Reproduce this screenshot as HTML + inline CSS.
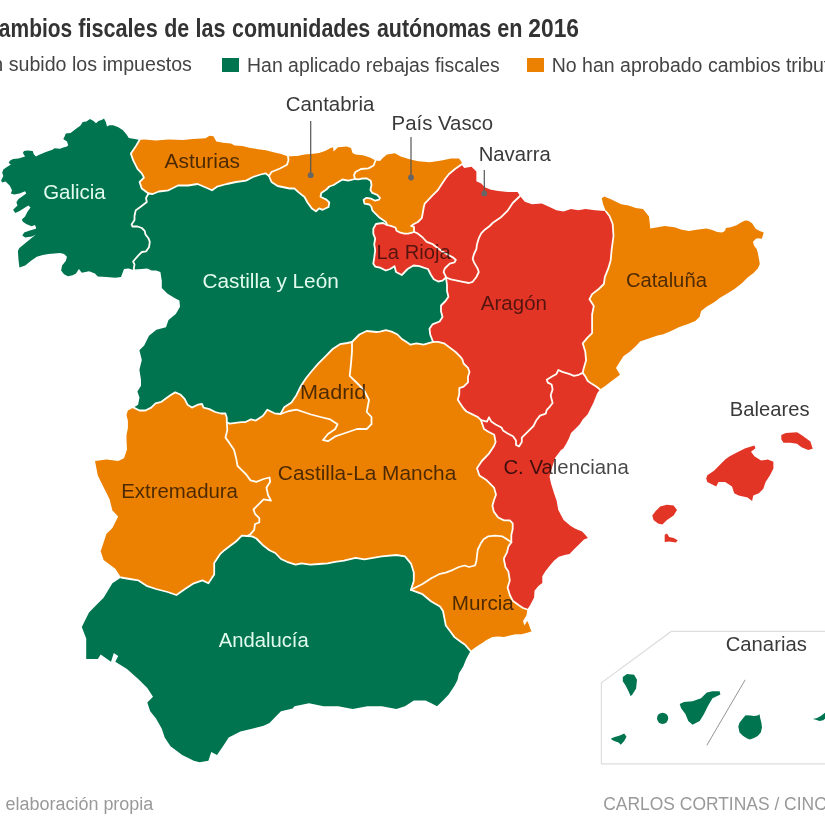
<!DOCTYPE html>
<html><head><meta charset="utf-8"><style>
html,body{margin:0;padding:0;background:#fff;}
body{width:825px;height:825px;overflow:hidden;position:relative;font-family:"Liberation Sans",sans-serif;}
svg{position:absolute;left:0;top:0;}
.g{fill:#00744f} .o{fill:#ec8000} .r{fill:#e23526}
.brd polyline{fill:none;stroke:#fffdf5;stroke-width:1.8;stroke-linejoin:round;stroke-linecap:round}
.t{position:absolute;white-space:nowrap;line-height:1;}
</style></head><body>
<svg width="825" height="825" viewBox="0 0 825 825">
<g><polygon class="g" points="139.5,140.0 134.8,139.1 128.8,137.9 126.4,134.2 122.7,130.0 117.9,127.0 113.0,125.2 109.4,125.2 107.0,126.4 105.8,122.1 104.0,118.5 102.1,119.7 98.5,120.9 96.0,123.3 93.6,120.9 90.0,119.0 86.4,121.5 82.7,122.1 80.3,125.8 76.7,128.2 70.6,133.0 65.8,133.6 64.5,136.7 63.3,139.1 67.0,141.5 68.2,145.2 67.0,146.4 63.3,147.6 60.0,148.7 54.5,148.2 52.4,149.8 45.8,152.0 38.2,155.3 36.0,156.4 33.8,154.2 32.7,150.9 27.3,150.4 24.0,150.9 22.9,153.1 25.1,156.4 18.5,158.5 13.1,159.1 9.8,160.7 8.7,162.9 10.9,164.5 6.5,167.3 3.3,169.5 2.2,172.7 3.3,176.0 1.1,180.4 2.2,182.5 5.5,181.5 7.6,183.6 9.8,185.8 12.0,190.2 10.9,193.5 14.2,194.5 19.6,193.5 25.1,191.3 26.2,193.5 21.8,196.7 18.5,198.9 16.4,202.2 17.5,205.5 13.1,209.8 15.3,213.1 19.6,210.9 25.1,207.6 28.4,205.5 30.5,207.6 27.3,212.0 25.1,216.4 21.8,219.6 22.9,221.8 26.2,224.0 31.6,226.2 34.9,225.1 36.0,227.3 35.9,228.7 29.1,230.7 24.2,232.6 22.3,235.5 25.2,237.5 32.0,236.5 35.9,234.5 31.0,238.4 25.2,243.3 19.4,248.1 17.9,251.0 18.4,258.8 19.4,267.5 25.2,265.6 31.0,260.7 36.8,256.8 42.7,254.9 48.5,253.9 54.3,253.5 60.1,253.0 64.0,253.9 66.9,256.8 65.9,260.7 62.1,265.6 61.1,270.4 64.0,274.3 67.9,276.2 72.7,275.3 76.0,273.5 78.9,269.0 81.8,272.7 89.1,271.3 94.9,273.5 97.8,276.4 106.5,277.0 115.3,277.8 121.0,277.0 124.0,269.0 128.4,268.4 132.7,269.8 134.0,269.5 133.8,268.7 134.5,264.4 133.1,261.5 138.2,255.6 141.8,252.0 146.2,251.3 149.1,246.9 149.8,241.8 148.4,238.2 145.5,234.5 144.7,230.9 141.8,228.0 137.5,226.5 132.4,226.5 131.6,224.4 134.5,220.0 134.5,216.0 135.7,210.4 141.0,206.5 146.8,202.0 146.0,198.0 148.5,193.5 141.8,188.6 139.6,182.0 144.0,177.6 141.8,173.3 137.5,168.9 133.1,160.2 130.9,153.6 135.3,147.1"/><polygon class="o" points="139.5,140.0 144.0,139.4 156.0,140.6 168.5,139.4 183.0,140.0 192.7,139.0 205.6,138.2 209.5,135.7 213.4,136.2 216.3,141.5 223.1,142.8 230.9,143.4 234.7,145.4 242.5,146.0 250.2,147.9 258.0,149.2 265.8,150.2 273.5,152.2 281.3,154.1 288.0,156.5 288.5,160.0 287.0,164.8 280.0,168.5 271.5,172.0 269.0,176.0 265.5,173.3 260.6,174.5 253.0,177.0 246.0,180.6 236.0,182.0 226.7,184.0 217.0,186.7 212.0,190.3 207.0,188.0 197.6,184.0 188.0,185.5 178.0,185.5 168.5,190.3 158.8,191.5 152.7,194.0 148.5,193.5 141.8,188.6 139.6,182.0 144.0,177.6 141.8,173.3 137.5,168.9 133.1,160.2 130.9,153.6 135.3,147.1"/><polygon class="o" points="288.0,156.5 294.5,156.0 297.3,156.0 304.5,154.5 313.3,153.8 319.0,153.0 325.0,151.0 330.7,148.0 333.0,147.3 333.6,151.6 338.0,147.3 346.7,146.5 351.0,148.0 352.5,153.0 355.5,154.5 362.7,155.3 370.0,157.5 375.5,160.5 373.6,165.5 368.5,168.4 361.0,169.0 355.5,172.0 354.0,175.0 355.0,179.0 348.2,180.7 342.4,179.5 338.0,182.2 333.6,185.0 329.3,186.5 326.4,189.5 321.3,193.0 320.5,196.7 323.5,198.2 326.4,199.6 329.3,202.5 328.5,207.0 322.7,209.8 319.0,208.4 316.0,211.3 311.8,208.4 307.5,202.5 304.5,197.0 298.7,192.4 294.4,188.5 289.7,188.5 277.6,186.0 271.5,182.0 269.0,176.0 271.5,172.0 280.0,168.5 287.0,164.8 288.5,160.0"/><polygon class="o" points="375.5,160.5 380.0,161.0 383.3,157.5 387.0,154.5 395.0,153.2 400.7,156.5 410.4,159.4 418.2,161.3 429.8,162.3 441.5,160.4 451.0,158.4 459.0,158.4 461.8,162.3 461.5,164.5 455.0,169.0 449.0,174.0 445.3,178.8 441.5,184.6 437.6,190.4 431.8,196.2 427.6,200.7 424.7,203.6 423.7,207.5 422.7,213.3 421.8,218.1 417.9,222.0 414.0,224.0 411.1,225.9 414.0,226.8 414.0,231.7 412.0,232.7 408.2,233.6 404.3,233.6 400.4,232.7 396.5,230.7 395.6,227.8 393.6,226.8 390.7,225.9 387.0,225.0 386.8,224.0 385.9,222.0 383.0,220.0 379.0,217.2 375.2,213.3 372.3,210.4 371.3,206.5 369.4,204.5 364.5,203.6 363.6,199.7 366.5,197.8 371.3,198.7 375.2,200.7 379.0,199.7 380.0,197.8 377.2,194.8 372.3,192.9 370.4,190.0 371.5,185.0 370.7,180.7 367.0,178.5 362.7,178.5 358.4,179.3 355.0,179.0 354.0,175.0 355.5,172.0 361.0,169.0 368.5,168.4 373.6,165.5"/><polygon class="r" points="461.5,164.5 464.2,167.9 471.5,166.7 476.4,171.5 476.4,181.2 481.2,183.6 484.8,187.3 491.0,189.7 498.2,191.0 507.9,192.0 517.6,192.0 520.0,196.0 512.7,203.0 507.9,210.3 500.6,217.6 493.3,222.4 489.7,226.0 484.8,229.7 481.2,233.3 478.8,238.2 477.0,244.2 476.4,249.0 474.0,254.0 472.7,258.8 474.0,262.4 477.6,268.5 478.8,272.0 476.4,277.0 472.7,281.8 469.0,283.0 463.0,281.8 457.0,280.6 451.0,279.4 446.0,277.5 445.5,275.8 443.6,272.0 444.8,268.5 449.7,263.6 454.5,262.4 455.8,260.0 453.3,257.6 448.5,255.0 442.4,251.5 437.6,248.0 432.7,244.2 426.7,241.8 422.7,237.5 417.9,233.6 414.0,231.7 414.0,226.8 411.1,225.9 414.0,224.0 417.9,222.0 421.8,218.1 422.7,213.3 423.7,207.5 424.7,203.6 427.6,200.7 431.8,196.2 437.6,190.4 441.5,184.6 445.3,178.8 449.0,174.0 455.0,169.0"/><polygon class="r" points="387.0,225.0 390.7,225.9 393.6,226.8 395.6,227.8 396.5,230.7 400.4,232.7 404.3,233.6 408.2,233.6 412.0,232.7 414.0,231.7 417.9,233.6 422.7,237.5 426.7,241.8 432.7,244.2 437.6,248.0 442.4,251.5 448.5,255.0 453.3,257.6 455.8,260.0 454.5,262.4 449.7,263.6 444.8,268.5 443.6,272.0 445.5,275.8 446.0,277.5 442.5,280.7 438.2,281.5 433.8,279.3 431.0,275.0 428.0,269.0 423.6,267.6 419.3,266.2 413.5,265.5 407.6,269.0 401.8,275.0 396.0,272.0 394.5,266.2 390.2,269.0 385.8,270.5 380.0,267.6 375.2,266.6 373.3,263.7 374.2,257.9 375.2,250.1 374.2,244.3 375.2,238.5 373.3,233.6 373.3,228.8 376.0,224.0 379.0,223.5 383.0,223.0"/><polygon class="r" points="520.0,196.0 524.8,201.8 532.0,204.2 541.8,203.5 549.0,206.7 556.4,210.3 563.6,211.5 571.0,209.0 578.2,210.3 585.5,209.0 595.0,210.3 604.8,211.0 606.0,211.5 609.5,216.0 612.7,224.0 613.5,236.0 611.6,250.0 610.7,260.2 608.2,268.7 604.8,277.2 603.9,284.0 598.8,289.0 592.1,294.1 589.5,299.2 593.8,306.0 592.1,314.5 592.1,324.7 592.1,333.1 587.0,338.2 582.7,343.3 585.3,351.8 586.1,360.3 583.6,368.8 582.7,372.9 578.8,374.8 573.9,375.8 569.1,373.9 562.3,371.9 558.4,370.0 556.5,373.9 551.6,376.8 546.8,379.7 547.8,382.6 551.6,384.5 552.6,389.4 550.7,395.2 551.6,399.1 552.6,403.0 549.7,406.8 546.8,409.8 545.8,413.6 540.0,415.6 536.4,420.2 533.5,426.0 527.6,431.8 521.8,437.6 521.8,442.0 519.0,446.4 516.0,445.0 516.0,440.5 513.0,436.2 507.3,433.3 503.0,430.4 501.5,427.5 495.6,424.5 491.3,421.6 489.0,417.3 487.0,421.6 481.0,420.2 478.2,417.3 472.4,414.4 466.5,411.5 463.6,408.5 460.7,404.2 457.8,399.8 459.3,394.0 459.3,388.2 463.6,386.7 468.0,382.4 468.0,376.5 469.5,372.2 468.0,367.8 463.6,363.5 462.2,359.0 460.0,356.4 455.6,352.0 449.8,347.6 444.0,343.3 438.2,341.8 433.0,341.8 430.2,334.5 429.5,328.7 432.4,324.4 439.6,321.5 442.5,317.0 441.0,311.3 441.0,305.5 445.5,301.0 448.4,296.7 447.0,291.0 447.0,285.0 446.0,277.5 451.0,279.4 457.0,280.6 463.0,281.8 469.0,283.0 472.7,281.8 476.4,277.0 478.8,272.0 477.6,268.5 474.0,262.4 472.7,258.8 474.0,254.0 476.4,249.0 477.0,244.2 478.8,238.2 481.2,233.3 484.8,229.7 489.7,226.0 493.3,222.4 500.6,217.6 507.9,210.3 512.7,203.0"/><polygon class="o" points="606.0,211.5 603.0,204.0 601.8,198.2 604.2,196.5 611.5,199.4 621.2,204.2 628.5,205.5 635.8,208.0 643.0,209.0 649.0,216.4 650.3,228.5 657.6,227.3 664.8,226.0 674.5,227.3 681.8,229.7 689.0,231.0 696.4,229.7 706.5,228.6 712.3,230.1 717.2,232.0 722.0,232.5 724.9,231.0 725.9,228.1 730.7,227.2 736.5,225.2 741.4,222.3 745.3,220.4 748.2,220.8 752.1,223.3 754.0,226.2 755.9,229.1 759.8,231.0 763.7,232.5 762.7,235.9 761.8,238.8 757.9,238.3 755.9,238.8 753.0,241.7 754.0,245.6 756.9,249.5 757.9,253.3 758.8,258.2 759.8,264.0 757.8,268.5 753.5,273.1 747.6,277.5 741.8,283.3 734.5,289.1 727.3,293.5 720.0,297.8 714.2,302.2 706.9,306.5 701.1,310.9 699.6,316.7 695.3,321.1 688.0,324.0 679.3,326.9 670.5,331.3 663.3,334.2 657.5,335.6 648.7,338.5 640.0,341.5 636.0,346.0 629.7,351.8 623.6,356.0 620.0,361.5 616.0,368.0 620.0,374.8 615.0,378.5 610.3,382.0 605.5,385.8 600.0,389.5 596.2,386.5 591.4,383.6 587.5,380.7 585.6,376.8 582.7,372.9 583.6,368.8 586.1,360.3 585.3,351.8 582.7,343.3 587.0,338.2 592.1,333.1 592.1,324.7 592.1,314.5 593.8,306.0 589.5,299.2 592.1,294.1 598.8,289.0 603.9,284.0 604.8,277.2 608.2,268.7 610.7,260.2 611.6,250.0 613.5,236.0 612.7,224.0 609.5,216.0"/><polygon class="r" points="582.7,372.9 585.6,376.8 587.5,380.7 591.4,383.6 596.2,386.5 600.0,389.5 597.2,393.3 595.3,398.1 593.3,403.0 590.4,408.8 587.5,414.6 582.7,419.5 579.8,424.3 575.9,428.2 571.0,433.0 569.1,437.9 566.2,443.7 563.3,448.5 561.0,450.0 555.3,457.5 552.4,466.2 549.5,476.4 551.0,483.6 553.8,492.4 556.7,501.0 558.2,509.8 563.6,520.0 570.4,525.8 575.3,528.7 582.1,531.6 585.0,534.5 587.9,537.9 584.0,539.4 578.2,545.2 574.3,549.1 569.5,553.9 564.6,554.9 558.8,556.8 553.9,560.7 549.1,566.5 545.2,571.4 542.3,576.2 542.3,583.0 538.4,585.9 534.5,590.8 534.1,597.6 530.2,605.0 527.3,609.5 523.0,608.0 518.5,605.0 512.7,600.7 509.8,595.0 507.6,587.6 509.8,580.4 508.4,571.6 505.5,567.3 504.0,560.0 504.0,558.2 507.0,552.4 508.4,546.5 511.3,542.2 511.3,535.0 512.7,529.0 512.7,523.3 509.8,520.4 504.0,520.4 498.2,517.5 493.8,511.6 492.4,505.8 494.0,500.0 496.0,494.8 494.0,487.6 486.7,480.3 479.4,475.5 477.0,468.2 481.8,461.0 489.0,453.6 494.0,446.0 495.6,442.0 494.2,434.7 488.4,431.8 484.0,429.0 481.0,420.2 487.0,421.6 489.0,417.3 491.3,421.6 495.6,424.5 501.5,427.5 503.0,430.4 507.3,433.3 513.0,436.2 516.0,440.5 516.0,445.0 519.0,446.4 521.8,442.0 521.8,437.6 527.6,431.8 533.5,426.0 536.4,420.2 540.0,415.6 545.8,413.6 546.8,409.8 549.7,406.8 552.6,403.0 551.6,399.1 550.7,395.2 552.6,389.4 551.6,384.5 547.8,382.6 546.8,379.7 551.6,376.8 556.5,373.9 558.4,370.0 562.3,371.9 569.1,373.9 573.9,375.8 578.8,374.8"/><polygon class="o" points="511.3,542.2 508.4,546.5 507.0,552.4 504.0,558.2 504.0,560.0 505.5,567.3 508.4,571.6 509.8,580.4 507.6,587.6 509.8,595.0 512.7,600.7 518.5,605.0 523.0,608.0 527.3,609.5 526.5,615.3 523.0,621.0 524.4,625.5 527.3,621.0 528.7,624.0 530.2,628.4 531.6,631.3 527.3,632.7 521.5,634.2 515.6,634.2 509.8,635.6 504.0,637.1 498.2,636.4 492.4,637.1 486.5,640.0 482.2,642.9 477.8,645.8 473.5,648.7 470.5,651.0 464.7,644.4 460.4,641.5 454.5,637.1 450.2,631.3 445.8,625.5 444.4,618.2 443.0,611.0 440.0,606.5 431.3,601.5 422.5,594.2 411.0,589.8 422.5,584.0 431.3,578.2 440.0,573.8 445.8,572.7 453.0,569.8 459.0,567.0 464.7,565.5 469.0,567.0 475.0,565.5 476.4,561.0 477.0,555.3 477.8,549.5 480.7,543.6 483.6,539.3 488.0,536.4 495.3,535.6 502.5,536.4 507.0,539.3"/><polygon class="g" points="247.0,536.0 252.0,536.4 256.4,538.5 259.3,541.5 263.6,545.8 269.5,550.2 275.3,553.0 281.0,559.0 287.0,561.8 295.6,564.7 301.5,563.3 310.2,564.7 319.0,564.0 327.6,563.3 335.0,561.8 344.0,560.7 355.6,557.8 364.4,559.3 373.0,557.8 381.8,556.4 396.4,555.0 405.0,556.4 411.0,563.6 413.8,572.4 413.8,581.0 411.0,589.8 422.5,594.2 431.3,601.5 440.0,606.5 443.0,611.0 444.4,618.2 445.8,625.5 450.2,631.3 454.5,637.1 460.4,641.5 464.7,644.4 470.5,651.0 466.2,659.0 463.3,666.2 458.9,673.5 457.5,680.0 454.5,685.8 448.7,694.5 443.0,700.4 437.0,706.2 431.3,703.3 425.5,700.4 413.8,700.4 405.0,706.2 396.4,709.0 381.8,706.2 367.3,706.2 352.7,709.0 338.2,706.2 323.6,706.2 309.0,703.3 294.5,706.2 292.7,708.4 281.0,711.3 275.3,717.0 269.5,723.0 263.6,725.8 252.0,728.7 240.4,731.6 228.7,737.5 223.0,746.2 217.0,755.0 211.3,752.0 208.4,760.7 199.6,762.2 193.8,760.7 182.2,755.0 170.5,746.2 164.7,737.5 161.8,728.7 156.0,718.5 150.2,711.3 147.3,702.5 153.0,696.7 147.3,688.0 138.5,679.3 127.0,669.0 115.3,661.8 118.2,656.0 113.8,653.0 111.0,661.8 100.7,654.5 97.8,659.0 86.2,659.0 86.2,638.5 81.8,627.0 89.0,612.4 97.8,603.6 103.6,597.8 112.4,583.3 121.0,577.5 129.8,579.0 138.5,580.4 147.3,586.2 156.0,589.0 167.6,592.0 176.4,595.0 185.0,589.0 193.8,583.3 202.5,580.4 208.4,583.3 214.2,574.5 214.2,563.0 220.0,554.2 224.4,550.2 230.2,545.8 236.0,541.5 241.8,535.6"/><polygon class="o" points="133.7,407.6 139.5,410.5 145.4,410.5 151.2,407.6 155.5,403.3 161.4,401.8 167.2,397.5 171.5,394.5 175.2,392.4 180.3,394.5 184.6,398.9 187.5,404.7 191.9,407.6 197.7,404.7 202.1,404.0 203.5,407.6 209.4,409.1 215.2,412.0 221.0,413.5 225.4,413.5 226.8,417.8 226.8,422.2 227.3,430.0 225.5,437.6 229.0,442.4 234.0,449.7 236.4,459.4 237.5,465.8 241.8,470.2 246.2,474.5 250.5,480.4 256.4,481.8 263.6,479.0 269.5,477.5 270.2,481.8 266.5,487.6 268.0,495.0 271.0,500.7 263.6,499.3 259.3,503.6 253.5,509.5 255.0,513.8 259.3,518.2 259.3,522.5 255.0,524.0 254.2,529.8 250.5,534.2 247.0,536.0 241.8,535.6 236.0,541.5 230.2,545.8 224.4,550.2 220.0,554.2 214.2,563.0 214.2,574.5 208.4,583.3 202.5,580.4 193.8,583.3 185.0,589.0 176.4,595.0 167.6,592.0 156.0,589.0 147.3,586.2 138.5,580.4 129.8,579.0 121.0,577.5 115.3,568.7 103.6,560.0 100.7,551.3 103.6,542.5 106.5,533.8 112.4,528.0 118.2,516.4 112.4,510.5 109.5,499.0 103.6,487.3 97.8,475.6 95.0,461.0 106.5,459.6 118.2,461.0 124.0,458.2 127.0,449.5 126.5,440.0 126.5,435.3 127.9,428.0 127.9,420.7 126.5,414.9 127.9,410.5"/><polygon class="o" points="433.0,341.8 438.2,341.8 444.0,343.3 449.8,347.6 455.6,352.0 460.0,356.4 462.2,359.0 463.6,363.5 468.0,367.8 469.5,372.2 468.0,376.5 468.0,382.4 463.6,386.7 459.3,388.2 459.3,394.0 457.8,399.8 460.7,404.2 463.6,408.5 466.5,411.5 472.4,414.4 478.2,417.3 481.0,420.2 484.0,429.0 488.4,431.8 494.2,434.7 495.6,442.0 494.0,446.0 489.0,453.6 481.8,461.0 477.0,468.2 479.4,475.5 486.7,480.3 494.0,487.6 496.0,494.8 494.0,500.0 492.4,505.8 493.8,511.6 498.2,517.5 504.0,520.4 509.8,520.4 512.7,523.3 512.7,529.0 511.3,535.0 511.3,542.2 507.0,539.3 502.5,536.4 495.3,535.6 488.0,536.4 483.6,539.3 480.7,543.6 477.8,549.5 477.0,555.3 476.4,561.0 475.0,565.5 469.0,567.0 464.7,565.5 459.0,567.0 453.0,569.8 445.8,572.7 440.0,573.8 431.3,578.2 422.5,584.0 411.0,589.8 413.8,581.0 413.8,572.4 411.0,563.6 405.0,556.4 396.4,555.0 381.8,556.4 373.0,557.8 364.4,559.3 355.6,557.8 344.0,560.7 335.0,561.8 327.6,563.3 319.0,564.0 310.2,564.7 301.5,563.3 295.6,564.7 287.0,561.8 281.0,559.0 275.3,553.0 269.5,550.2 263.6,545.8 259.3,541.5 256.4,538.5 252.0,536.4 247.0,536.0 250.5,534.2 254.2,529.8 255.0,524.0 259.3,522.5 259.3,518.2 255.0,513.8 253.5,509.5 259.3,503.6 263.6,499.3 271.0,500.7 268.0,495.0 266.5,487.6 270.2,481.8 269.5,477.5 263.6,479.0 256.4,481.8 250.5,480.4 246.2,474.5 241.8,470.2 237.5,465.8 236.4,459.4 234.0,449.7 229.0,442.4 225.5,437.6 227.3,430.0 226.8,422.2 229.7,423.6 235.5,422.9 241.4,422.2 245.0,422.2 251.0,419.4 255.8,420.6 263.0,415.8 267.3,409.7 274.5,413.3 280.5,414.0 289.0,411.0 296.4,409.7 303.6,412.0 311.0,414.5 320.6,417.0 330.3,419.4 337.6,424.2 335.2,429.0 328.0,434.0 323.0,440.0 328.0,441.2 335.2,436.4 342.4,434.0 349.7,431.5 357.0,429.0 366.7,429.0 371.5,424.2 371.5,417.0 366.7,412.0 369.0,400.0 364.2,390.3 357.0,383.0 349.7,375.8 351.0,363.6 352.0,351.5 352.0,342.0 359.4,334.5 366.7,331.0 376.4,332.0 380.0,331.6 385.8,330.2 391.6,331.6 397.5,334.5 401.8,339.0 406.2,341.8 410.5,344.7 416.4,343.3 423.6,344.7"/><polygon class="o" points="280.5,414.0 284.2,407.3 291.5,402.4 296.4,395.2 301.2,385.5 306.0,378.2 311.0,372.0 318.2,363.6 325.5,356.4 332.7,349.0 340.0,344.2 347.3,343.0 352.0,342.0 352.0,351.5 351.0,363.6 349.7,375.8 357.0,383.0 364.2,390.3 369.0,400.0 366.7,412.0 371.5,417.0 371.5,424.2 366.7,429.0 357.0,429.0 349.7,431.5 342.4,434.0 335.2,436.4 328.0,441.2 323.0,440.0 328.0,434.0 335.2,429.0 337.6,424.2 330.3,419.4 320.6,417.0 311.0,414.5 303.6,412.0 296.4,409.7 289.0,411.0"/><polygon class="g" points="148.5,193.5 152.7,194.0 158.8,191.5 168.5,190.3 178.0,185.5 188.0,185.5 197.6,184.0 207.0,188.0 212.0,190.3 217.0,186.7 226.7,184.0 236.0,182.0 246.0,180.6 253.0,177.0 260.6,174.5 265.5,173.3 269.0,176.0 271.5,182.0 277.6,186.0 289.7,188.5 294.4,188.5 298.7,192.4 304.5,197.0 307.5,202.5 311.8,208.4 316.0,211.3 319.0,208.4 322.7,209.8 328.5,207.0 329.3,202.5 326.4,199.6 323.5,198.2 320.5,196.7 321.3,193.0 326.4,189.5 329.3,186.5 333.6,185.0 338.0,182.2 342.4,179.5 348.2,180.7 355.0,179.0 358.4,179.3 362.7,178.5 367.0,178.5 370.7,180.7 371.5,185.0 370.4,190.0 372.3,192.9 377.2,194.8 380.0,197.8 379.0,199.7 375.2,200.7 371.3,198.7 366.5,197.8 363.6,199.7 364.5,203.6 369.4,204.5 371.3,206.5 372.3,210.4 375.2,213.3 379.0,217.2 383.0,220.0 385.9,222.0 386.8,224.0 387.0,225.0 383.0,223.0 379.0,223.5 376.0,224.0 373.3,228.8 373.3,233.6 375.2,238.5 374.2,244.3 375.2,250.1 374.2,257.9 373.3,263.7 375.2,266.6 380.0,267.6 385.8,270.5 390.2,269.0 394.5,266.2 396.0,272.0 401.8,275.0 407.6,269.0 413.5,265.5 419.3,266.2 423.6,267.6 428.0,269.0 431.0,275.0 433.8,279.3 438.2,281.5 442.5,280.7 446.0,277.5 447.0,285.0 447.0,291.0 448.4,296.7 445.5,301.0 441.0,305.5 441.0,311.3 442.5,317.0 439.6,321.5 432.4,324.4 429.5,328.7 430.2,334.5 433.0,341.8 423.6,344.7 416.4,343.3 410.5,344.7 406.2,341.8 401.8,339.0 397.5,334.5 391.6,331.6 385.8,330.2 380.0,331.6 376.4,332.0 366.7,331.0 359.4,334.5 352.0,342.0 347.3,343.0 340.0,344.2 332.7,349.0 325.5,356.4 318.2,363.6 311.0,372.0 306.0,378.2 301.2,385.5 296.4,395.2 291.5,402.4 284.2,407.3 280.5,414.0 274.5,413.3 267.3,409.7 263.0,415.8 255.8,420.6 251.0,419.4 245.0,422.2 241.4,422.2 235.5,422.9 229.7,423.6 226.8,422.2 226.8,417.8 225.4,413.5 221.0,413.5 215.2,412.0 209.4,409.1 203.5,407.6 202.1,404.0 197.7,404.7 191.9,407.6 187.5,404.7 184.6,398.9 180.3,394.5 175.2,392.4 171.5,394.5 167.2,397.5 161.4,401.8 155.5,403.3 151.2,407.6 145.4,410.5 139.5,410.5 133.7,407.6 138.1,404.7 139.5,397.5 137.4,391.6 141.0,385.8 141.0,380.0 139.4,369.7 141.8,360.0 139.4,350.3 144.2,345.5 149.0,335.8 156.4,329.7 166.0,327.3 168.5,320.0 175.8,314.0 180.0,306.7 179.4,300.6 175.0,298.2 167.6,293.8 161.8,288.0 161.8,280.7 160.4,272.0 156.0,270.5 151.6,270.5 147.3,268.4 141.5,269.0 134.0,269.5 133.8,268.7 134.5,264.4 133.1,261.5 138.2,255.6 141.8,252.0 146.2,251.3 149.1,246.9 149.8,241.8 148.4,238.2 145.5,234.5 144.7,230.9 141.8,228.0 137.5,226.5 132.4,226.5 131.6,224.4 134.5,220.0 134.5,216.0 135.7,210.4 141.0,206.5 146.8,202.0 146.0,198.0"/></g>
<g class="brd"><polyline points="134.0,269.5 133.8,268.7 134.5,264.4 133.1,261.5 138.2,255.6 141.8,252.0 146.2,251.3 149.1,246.9 149.8,241.8 148.4,238.2 145.5,234.5 144.7,230.9 141.8,228.0 137.5,226.5 132.4,226.5 131.6,224.4 134.5,220.0 134.5,216.0 135.7,210.4 141.0,206.5 146.8,202.0 146.0,198.0 148.5,193.5"/><polyline points="148.5,193.5 141.8,188.6 139.6,182.0 144.0,177.6 141.8,173.3 137.5,168.9 133.1,160.2 130.9,153.6 135.3,147.1 139.5,140.0"/><polyline points="288.0,156.5 288.5,160.0 287.0,164.8 280.0,168.5 271.5,172.0 269.0,176.0"/><polyline points="269.0,176.0 265.5,173.3 260.6,174.5 253.0,177.0 246.0,180.6 236.0,182.0 226.7,184.0 217.0,186.7 212.0,190.3 207.0,188.0 197.6,184.0 188.0,185.5 178.0,185.5 168.5,190.3 158.8,191.5 152.7,194.0 148.5,193.5"/><polyline points="375.5,160.5 373.6,165.5 368.5,168.4 361.0,169.0 355.5,172.0 354.0,175.0 355.0,179.0"/><polyline points="355.0,179.0 348.2,180.7 342.4,179.5 338.0,182.2 333.6,185.0 329.3,186.5 326.4,189.5 321.3,193.0 320.5,196.7 323.5,198.2 326.4,199.6 329.3,202.5 328.5,207.0 322.7,209.8 319.0,208.4 316.0,211.3 311.8,208.4 307.5,202.5 304.5,197.0 298.7,192.4 294.4,188.5 289.7,188.5 277.6,186.0 271.5,182.0 269.0,176.0"/><polyline points="461.5,164.5 455.0,169.0 449.0,174.0 445.3,178.8 441.5,184.6 437.6,190.4 431.8,196.2 427.6,200.7 424.7,203.6 423.7,207.5 422.7,213.3 421.8,218.1 417.9,222.0 414.0,224.0 411.1,225.9 414.0,226.8 414.0,231.7"/><polyline points="414.0,231.7 412.0,232.7 408.2,233.6 404.3,233.6 400.4,232.7 396.5,230.7 395.6,227.8 393.6,226.8 390.7,225.9 387.0,225.0"/><polyline points="387.0,225.0 386.8,224.0 385.9,222.0 383.0,220.0 379.0,217.2 375.2,213.3 372.3,210.4 371.3,206.5 369.4,204.5 364.5,203.6 363.6,199.7 366.5,197.8 371.3,198.7 375.2,200.7 379.0,199.7 380.0,197.8 377.2,194.8 372.3,192.9 370.4,190.0 371.5,185.0 370.7,180.7 367.0,178.5 362.7,178.5 358.4,179.3 355.0,179.0"/><polyline points="520.0,196.0 512.7,203.0 507.9,210.3 500.6,217.6 493.3,222.4 489.7,226.0 484.8,229.7 481.2,233.3 478.8,238.2 477.0,244.2 476.4,249.0 474.0,254.0 472.7,258.8 474.0,262.4 477.6,268.5 478.8,272.0 476.4,277.0 472.7,281.8 469.0,283.0 463.0,281.8 457.0,280.6 451.0,279.4 446.0,277.5"/><polyline points="446.0,277.5 445.5,275.8 443.6,272.0 444.8,268.5 449.7,263.6 454.5,262.4 455.8,260.0 453.3,257.6 448.5,255.0 442.4,251.5 437.6,248.0 432.7,244.2 426.7,241.8 422.7,237.5 417.9,233.6 414.0,231.7"/><polyline points="446.0,277.5 442.5,280.7 438.2,281.5 433.8,279.3 431.0,275.0 428.0,269.0 423.6,267.6 419.3,266.2 413.5,265.5 407.6,269.0 401.8,275.0 396.0,272.0 394.5,266.2 390.2,269.0 385.8,270.5 380.0,267.6 375.2,266.6 373.3,263.7 374.2,257.9 375.2,250.1 374.2,244.3 375.2,238.5 373.3,233.6 373.3,228.8 376.0,224.0 379.0,223.5 383.0,223.0 387.0,225.0"/><polyline points="606.0,211.5 609.5,216.0 612.7,224.0 613.5,236.0 611.6,250.0 610.7,260.2 608.2,268.7 604.8,277.2 603.9,284.0 598.8,289.0 592.1,294.1 589.5,299.2 593.8,306.0 592.1,314.5 592.1,324.7 592.1,333.1 587.0,338.2 582.7,343.3 585.3,351.8 586.1,360.3 583.6,368.8 582.7,372.9"/><polyline points="582.7,372.9 578.8,374.8 573.9,375.8 569.1,373.9 562.3,371.9 558.4,370.0 556.5,373.9 551.6,376.8 546.8,379.7 547.8,382.6 551.6,384.5 552.6,389.4 550.7,395.2 551.6,399.1 552.6,403.0 549.7,406.8 546.8,409.8 545.8,413.6 540.0,415.6 536.4,420.2 533.5,426.0 527.6,431.8 521.8,437.6 521.8,442.0 519.0,446.4 516.0,445.0 516.0,440.5 513.0,436.2 507.3,433.3 503.0,430.4 501.5,427.5 495.6,424.5 491.3,421.6 489.0,417.3 487.0,421.6 481.0,420.2"/><polyline points="481.0,420.2 484.0,429.0 488.4,431.8 494.2,434.7 495.6,442.0 494.0,446.0 489.0,453.6 481.8,461.0 477.0,468.2 479.4,475.5 486.7,480.3 494.0,487.6 496.0,494.8 494.0,500.0 492.4,505.8 493.8,511.6 498.2,517.5 504.0,520.4 509.8,520.4 512.7,523.3 512.7,529.0 511.3,535.0 511.3,542.2"/><polyline points="433.0,341.8 438.2,341.8 444.0,343.3 449.8,347.6 455.6,352.0 460.0,356.4 462.2,359.0 463.6,363.5 468.0,367.8 469.5,372.2 468.0,376.5 468.0,382.4 463.6,386.7 459.3,388.2 459.3,394.0 457.8,399.8 460.7,404.2 463.6,408.5 466.5,411.5 472.4,414.4 478.2,417.3 481.0,420.2"/><polyline points="433.0,341.8 430.2,334.5 429.5,328.7 432.4,324.4 439.6,321.5 442.5,317.0 441.0,311.3 441.0,305.5 445.5,301.0 448.4,296.7 447.0,291.0 447.0,285.0 446.0,277.5"/><polyline points="600.0,389.5 596.2,386.5 591.4,383.6 587.5,380.7 585.6,376.8 582.7,372.9"/><polyline points="527.3,609.5 523.0,608.0 518.5,605.0 512.7,600.7 509.8,595.0 507.6,587.6 509.8,580.4 508.4,571.6 505.5,567.3 504.0,560.0 504.0,558.2 507.0,552.4 508.4,546.5 511.3,542.2"/><polyline points="511.3,542.2 507.0,539.3 502.5,536.4 495.3,535.6 488.0,536.4 483.6,539.3 480.7,543.6 477.8,549.5 477.0,555.3 476.4,561.0 475.0,565.5 469.0,567.0 464.7,565.5 459.0,567.0 453.0,569.8 445.8,572.7 440.0,573.8 431.3,578.2 422.5,584.0 411.0,589.8"/><polyline points="411.0,589.8 422.5,594.2 431.3,601.5 440.0,606.5 443.0,611.0 444.4,618.2 445.8,625.5 450.2,631.3 454.5,637.1 460.4,641.5 464.7,644.4 470.5,651.0"/><polyline points="247.0,536.0 252.0,536.4 256.4,538.5 259.3,541.5 263.6,545.8 269.5,550.2 275.3,553.0 281.0,559.0 287.0,561.8 295.6,564.7 301.5,563.3 310.2,564.7 319.0,564.0 327.6,563.3 335.0,561.8 344.0,560.7 355.6,557.8 364.4,559.3 373.0,557.8 381.8,556.4 396.4,555.0 405.0,556.4 411.0,563.6 413.8,572.4 413.8,581.0 411.0,589.8"/><polyline points="121.0,577.5 129.8,579.0 138.5,580.4 147.3,586.2 156.0,589.0 167.6,592.0 176.4,595.0 185.0,589.0 193.8,583.3 202.5,580.4 208.4,583.3 214.2,574.5 214.2,563.0 220.0,554.2 224.4,550.2 230.2,545.8 236.0,541.5 241.8,535.6 247.0,536.0"/><polyline points="133.7,407.6 139.5,410.5 145.4,410.5 151.2,407.6 155.5,403.3 161.4,401.8 167.2,397.5 171.5,394.5 175.2,392.4 180.3,394.5 184.6,398.9 187.5,404.7 191.9,407.6 197.7,404.7 202.1,404.0 203.5,407.6 209.4,409.1 215.2,412.0 221.0,413.5 225.4,413.5 226.8,417.8 226.8,422.2"/><polyline points="226.8,422.2 227.3,430.0 225.5,437.6 229.0,442.4 234.0,449.7 236.4,459.4 237.5,465.8 241.8,470.2 246.2,474.5 250.5,480.4 256.4,481.8 263.6,479.0 269.5,477.5 270.2,481.8 266.5,487.6 268.0,495.0 271.0,500.7 263.6,499.3 259.3,503.6 253.5,509.5 255.0,513.8 259.3,518.2 259.3,522.5 255.0,524.0 254.2,529.8 250.5,534.2 247.0,536.0"/><polyline points="433.0,341.8 423.6,344.7 416.4,343.3 410.5,344.7 406.2,341.8 401.8,339.0 397.5,334.5 391.6,331.6 385.8,330.2 380.0,331.6 376.4,332.0 366.7,331.0 359.4,334.5 352.0,342.0"/><polyline points="352.0,342.0 347.3,343.0 340.0,344.2 332.7,349.0 325.5,356.4 318.2,363.6 311.0,372.0 306.0,378.2 301.2,385.5 296.4,395.2 291.5,402.4 284.2,407.3 280.5,414.0"/><polyline points="280.5,414.0 274.5,413.3 267.3,409.7 263.0,415.8 255.8,420.6 251.0,419.4 245.0,422.2 241.4,422.2 235.5,422.9 229.7,423.6 226.8,422.2"/><polyline points="280.5,414.0 289.0,411.0 296.4,409.7 303.6,412.0 311.0,414.5 320.6,417.0 330.3,419.4 337.6,424.2 335.2,429.0 328.0,434.0 323.0,440.0 328.0,441.2 335.2,436.4 342.4,434.0 349.7,431.5 357.0,429.0 366.7,429.0 371.5,424.2 371.5,417.0 366.7,412.0 369.0,400.0 364.2,390.3 357.0,383.0 349.7,375.8 351.0,363.6 352.0,351.5 352.0,342.0"/></g>
<polygon class="r" points="706.2,478.6 707.3,475.2 714.0,470.7 720.7,464.0 725.2,459.5 729.7,456.2 736.4,452.8 745.4,448.3 754.4,445.6 755.5,448.3 751.0,451.7 754.4,456.2 761.1,460.6 767.8,459.5 773.4,461.8 773.4,468.5 770.0,475.2 765.6,482.0 763.3,488.7 758.9,493.2 753.3,495.4 752.1,501.0 747.6,497.6 738.7,495.4 734.2,493.2 732.0,486.4 725.2,482.0 718.5,482.0 716.2,486.4 711.8,484.2 707.3,482.0"/>
<polygon class="r" points="781.3,434.9 785.8,433.0 797.0,432.2 801.5,434.9 806.0,438.2 810.4,441.6 812.7,448.8 808.2,450.1 801.5,447.2 797.0,443.8 790.3,442.7 783.5,442.7 781.3,439.3"/>
<polygon class="r" points="652.3,515.6 655.7,511.1 660.2,506.6 666.9,504.8 673.6,505.5 677.0,510.0 673.6,515.6 667.0,520.0 662.4,524.6 658.0,523.4 653.5,520.0"/>
<polygon class="r" points="664.7,534.7 667.0,533.5 669.2,536.9 673.6,538.0 677.7,540.3 675.9,542.5 669.2,541.4 664.7,542.0"/>
<polygon class="g" points="622.8,677.0 627.0,674.1 634.1,674.7 637.0,679.8 636.1,688.4 632.7,694.0 630.7,696.3 628.5,691.2 625.6,685.5 622.8,681.2"/>
<polygon class="g" points="611.4,738.2 615.6,736.8 619.9,735.4 624.2,733.4 626.5,736.8 624.2,741.0 620.8,744.7 618.5,742.5 614.2,741.0 611.4,739.6"/>
<polygon class="g" points="679.7,704.0 684.0,702.0 692.5,701.2 701.0,698.3 706.8,692.6 712.5,691.2 719.6,691.2 720.4,694.6 712.5,698.3 708.2,705.4 704.0,714.0 699.7,721.0 692.5,724.8 688.3,721.0 685.4,714.0 681.1,708.3"/>
<polygon class="g" points="738.3,726.4 739.5,722.7 743.2,717.9 745.6,715.2 750.5,715.5 754.0,716.0 757.7,715.5 759.5,714.2 760.2,717.9 761.4,722.7 762.0,727.6 760.8,732.4 757.7,736.0 754.0,737.9 749.8,739.5 746.8,738.2 743.2,736.0 739.5,732.4"/>
<polygon class="g" points="812.9,719.0 817.1,717.9 820.8,716.0 826.0,712.0 826.0,718.0 823.2,720.3 819.5,720.9 815.9,719.7"/>
<circle class="g" cx="662.6" cy="718.3" r="5.6"/>
</svg>
<svg width="825" height="825" viewBox="0 0 825 825" style="position:absolute;left:0;top:0;will-change:transform" font-family="Liberation Sans, sans-serif">
<text x="-1.13" y="37.00" font-size="25.5" fill="#333" textLength="73.29" lengthAdjust="spacingAndGlyphs" font-weight="bold">ambios</text>
<text x="78.22" y="37.00" font-size="25.5" fill="#333" textLength="79.49" lengthAdjust="spacingAndGlyphs" font-weight="bold">fiscales</text>
<text x="164.14" y="37.00" font-size="25.5" fill="#333" textLength="25.00" lengthAdjust="spacingAndGlyphs" font-weight="bold">de</text>
<text x="195.59" y="37.00" font-size="25.5" fill="#333" textLength="29.98" lengthAdjust="spacingAndGlyphs" font-weight="bold">las</text>
<text x="232.04" y="37.00" font-size="25.5" fill="#333" textLength="138.24" lengthAdjust="spacingAndGlyphs" font-weight="bold">comunidades</text>
<text x="376.96" y="37.00" font-size="25.5" fill="#333" textLength="114.23" lengthAdjust="spacingAndGlyphs" font-weight="bold">autónomas</text>
<text x="497.34" y="37.00" font-size="25.5" fill="#333" textLength="25.20" lengthAdjust="spacingAndGlyphs" font-weight="bold">en</text>
<text x="528.30" y="37.00" font-size="25.5" fill="#333" textLength="50.75" lengthAdjust="spacingAndGlyphs" font-weight="bold">2016</text>
<text x="-32.78" y="71.4" font-size="19.4" fill="#444" textLength="224.65" lengthAdjust="spacingAndGlyphs">Han subido los impuestos</text>
<rect x="222" y="58" width="17" height="14" fill="#00744f"/>
<text x="247.10" y="71.6" font-size="19.4" fill="#444" textLength="252.58" lengthAdjust="spacingAndGlyphs">Han aplicado rebajas fiscales</text>
<rect x="527" y="58" width="17" height="14" fill="#ec8000"/>
<text x="551.79" y="71.6" font-size="19.4" fill="#444" textLength="319.72" lengthAdjust="spacingAndGlyphs">No han aprobado cambios tributarios</text>
<g stroke="#555" stroke-width="1.2">
<line x1="310.7" y1="121" x2="310.7" y2="175"/>
<line x1="411" y1="137" x2="411" y2="177"/>
<line x1="484.3" y1="170" x2="484.3" y2="193"/>
</g>
<g fill="#666">
<circle cx="310.7" cy="175.2" r="2.9"/>
<circle cx="411" cy="177.5" r="2.9"/>
<circle cx="484.3" cy="193.4" r="2.9"/>
</g>
<polyline points="826,631.4 671.2,631.4 601.4,682.7 601.4,763.8 826,763.8" fill="none" stroke="#dedede" stroke-width="1.2"/>
<line x1="745.2" y1="679.8" x2="706.8" y2="745.3" stroke="#888" stroke-width="0.9"/>
<text x="43.18" y="198.80" font-size="20.5" fill="#e2fbef" textLength="62.56" lengthAdjust="spacingAndGlyphs">Galicia</text>
<text x="164.55" y="167.60" font-size="20.5" fill="#000" textLength="75.48" lengthAdjust="spacingAndGlyphs" fill-opacity="0.68">Asturias</text>
<text x="285.68" y="111.00" font-size="20.5" fill="#3a3a3a" textLength="88.64" lengthAdjust="spacingAndGlyphs">Cantabria</text>
<text x="391.62" y="129.60" font-size="20.5" fill="#3a3a3a" textLength="101.53" lengthAdjust="spacingAndGlyphs">País Vasco</text>
<text x="478.63" y="160.60" font-size="20.5" fill="#3a3a3a" textLength="72.21" lengthAdjust="spacingAndGlyphs">Navarra</text>
<text x="202.56" y="287.90" font-size="20.5" fill="#e2fbef" textLength="136.23" lengthAdjust="spacingAndGlyphs">Castilla y León</text>
<text x="376.53" y="258.50" font-size="20.5" fill="#000" textLength="74.20" lengthAdjust="spacingAndGlyphs" fill-opacity="0.62">La Rioja</text>
<text x="480.75" y="310.40" font-size="20.5" fill="#000" textLength="66.23" lengthAdjust="spacingAndGlyphs" fill-opacity="0.62">Aragón</text>
<text x="625.89" y="287.30" font-size="20.5" fill="#000" textLength="81.02" lengthAdjust="spacingAndGlyphs" fill-opacity="0.68">Cataluña</text>
<text x="300.12" y="399.40" font-size="20.5" fill="#000" textLength="66.07" lengthAdjust="spacingAndGlyphs" fill-opacity="0.68">Madrid</text>
<text x="277.86" y="480.30" font-size="20.5" fill="#000" textLength="178.39" lengthAdjust="spacingAndGlyphs" fill-opacity="0.68">Castilla-La Mancha</text>
<text x="121.22" y="498.10" font-size="20.5" fill="#000" textLength="116.73" lengthAdjust="spacingAndGlyphs" fill-opacity="0.68">Extremadura</text>
<text x="503.38" y="473.70" font-size="20.5" fill="#000" textLength="125.36" lengthAdjust="spacingAndGlyphs" fill-opacity="0.72">C. Valenciana</text>
<text x="451.79" y="610.20" font-size="20.5" fill="#000" textLength="62.02" lengthAdjust="spacingAndGlyphs" fill-opacity="0.68">Murcia</text>
<text x="218.65" y="647.30" font-size="20.5" fill="#e2fbef" textLength="90.06" lengthAdjust="spacingAndGlyphs">Andalucía</text>
<text x="729.83" y="416.30" font-size="20.5" fill="#3a3a3a" textLength="79.66" lengthAdjust="spacingAndGlyphs">Baleares</text>
<text x="725.69" y="651.20" font-size="20.5" fill="#3a3a3a" textLength="81.11" lengthAdjust="spacingAndGlyphs">Canarias</text>
<text x="5.54" y="809.70" font-size="18" fill="#999" textLength="147.78" lengthAdjust="spacingAndGlyphs">elaboración propia</text>
<text x="603.23" y="809.7" font-size="17.5" fill="#999" textLength="282.65" lengthAdjust="spacingAndGlyphs">CARLOS CORTINAS / CINCO DÍAS</text>
</svg>
</body></html>
